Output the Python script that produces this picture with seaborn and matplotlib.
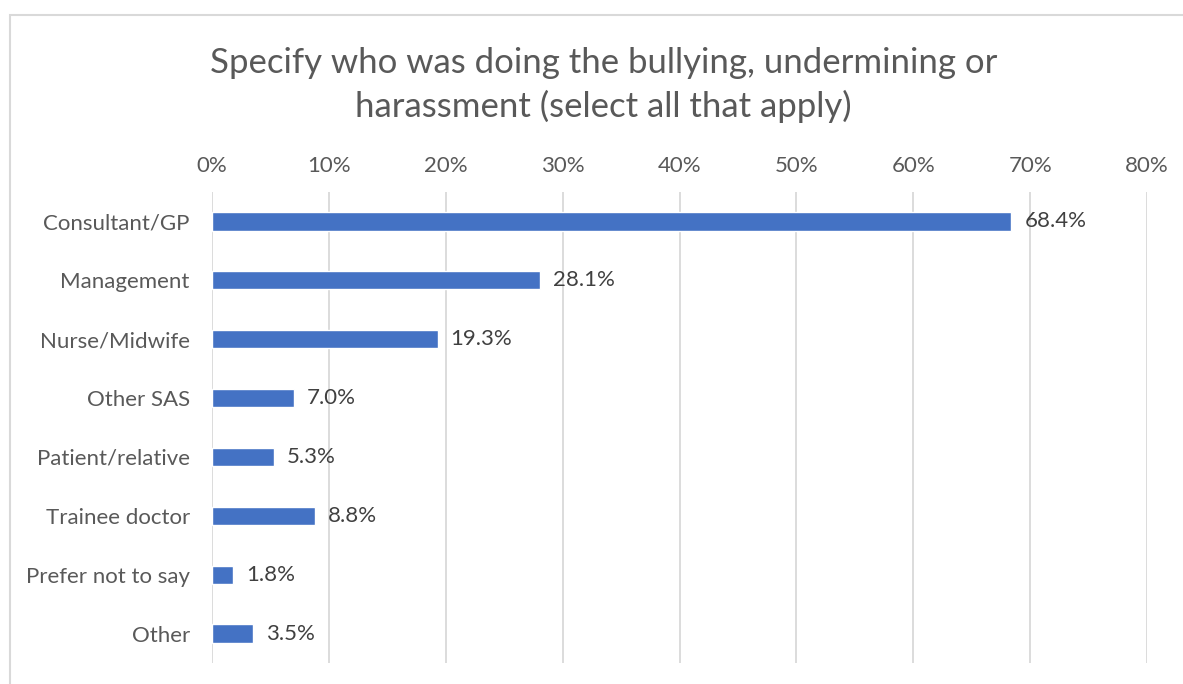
import pandas as pd
import matplotlib.pyplot as plt
import seaborn as sns
from matplotlib.patches import Rectangle
from matplotlib.ticker import PercentFormatter

# Chart data
categories = ['Consultant/GP', 'Management', 'Nurse/Midwife', 'Other SAS',
              'Patient/relative', 'Trainee doctor', 'Prefer not to say', 'Other']
percentages = [68.4, 28.1, 19.3, 7.0, 5.3, 8.8, 1.8, 3.5]
x_ticks = [0, 10, 20, 30, 40, 50, 60, 70, 80]

df = pd.DataFrame({'Role': categories, 'Percent': percentages})

sns.set_style("white")
plt.rcParams['font.family'] = ['Lato', 'DejaVu Sans']
text_grey = '#595959'

fig = plt.figure(figsize=(11.83, 6.84), dpi=100)
ax = fig.add_axes([0.1792, 0.0307, 0.7904, 0.6886])

sns.barplot(data=df, x='Percent', y='Role', orient='h', color='#4472C4',
            saturation=1, width=0.31, ax=ax)

ax.set_xlim(0, 80)
ax.set_xticks(x_ticks)
ax.xaxis.set_major_formatter(PercentFormatter(decimals=0))
ax.xaxis.tick_top()
ax.tick_params(axis='x', length=0, pad=11.5, labelsize=16, labelcolor=text_grey)
ax.tick_params(axis='y', length=0, pad=16, labelsize=16, labelcolor=text_grey)
ax.set_xlabel('')
ax.set_ylabel('')
ax.grid(axis='x', color='#D9D9D9', linewidth=1.3)
ax.set_axisbelow(True)
for s in ax.spines.values():
    s.set_visible(False)

# Data labels
for i, v in enumerate(percentages):
    ax.text(v + 1.1, i, f'{v:.1f}%', va='center', ha='left', fontsize=16, color='#404040')

fig.text(0.51, 1 - 85 / 684,
         'Specify who was doing the bullying, undermining or\nharassment (select all that apply)',
         ha='center', va='center', fontsize=25, color=text_grey, linespacing=1.37)

# Chart border (cropped at right and bottom)
fig.patches.append(Rectangle((10 / 1183, -0.1), 1.2, 0.1 + 1 - 15 / 684,
                             transform=fig.transFigure, fill=False,
                             edgecolor='#D9D9D9', linewidth=1.5))

plt.savefig('out.png', dpi=100)
